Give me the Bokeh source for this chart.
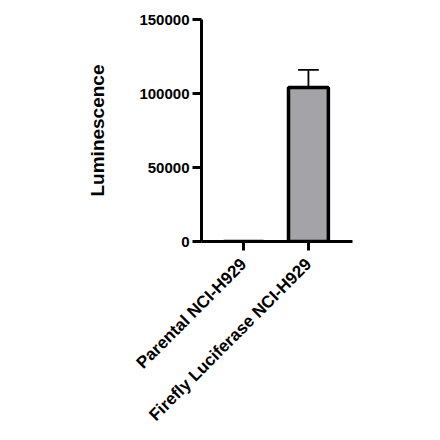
from math import pi
from bokeh.plotting import figure
from bokeh.models import Range1d, FixedTicker
from bokeh.embed import file_html
from bokeh.resources import INLINE

categories = ["Parental NCI-H929", "Firefly Luciferase NCI-H929"]
values = [0, 104000]
errors_upper = [0, 116000]
y_ticks = [0, 50000, 100000, 150000]
y_tick_labels = ["0", "50000", "100000", "150000"]

xs = list(range(len(categories)))

p = figure(width=424, height=436, output_backend="svg", toolbar_location=None,
           x_range=Range1d(-0.65, 1.68), y_range=Range1d(0, 150000),
           min_border_left=201, min_border_top=19, min_border_right=72,
           min_border_bottom=195)
p.outline_line_color = None
p.grid.visible = False
p.background_fill_color = "white"

p.vbar(x=xs, top=values, width=0.615, bottom=0, fill_color="#a3a3a8",
       line_color="black", line_width=3.5)
p.segment(x0=xs[1:], y0=values[1:], x1=xs[1:], y1=errors_upper[1:],
          line_color="black", line_width=1.8)
p.segment(x0=[x - 0.16 for x in xs[1:]], y0=errors_upper[1:],
          x1=[x + 0.16 for x in xs[1:]], y1=errors_upper[1:],
          line_color="black", line_width=1.8)

for ax in (p.xaxis[0], p.yaxis[0]):
    ax.axis_line_width = 3
    ax.major_tick_line_width = 3
    ax.major_tick_out = 9
    ax.major_tick_in = 0
    ax.minor_tick_line_color = None
    ax.major_label_text_font = "Liberation Sans"
    ax.major_label_text_font_style = "bold"
    ax.major_label_text_font_size = "15px"
    ax.major_label_text_color = "black"

p.yaxis.ticker = FixedTicker(ticks=y_ticks)
p.yaxis.major_label_overrides = dict(zip(y_ticks, y_tick_labels))
p.yaxis.major_label_standoff = 3
p.yaxis.axis_label = "Luminescence"
p.yaxis.axis_label_text_font = "Liberation Sans"
p.yaxis.axis_label_text_font_style = "bold"
p.yaxis.axis_label_text_font_size = "19px"
p.yaxis.axis_label_text_color = "black"
p.yaxis.axis_label_standoff = 28

p.xaxis.ticker = FixedTicker(ticks=xs)
p.xaxis.major_label_overrides = dict(zip(xs, categories))
p.xaxis.major_label_orientation = pi / 4
p.xaxis.major_label_text_font_size = "17px"
p.xaxis.major_label_standoff = 11

open("out.html", "w").write(file_html(p, INLINE))
